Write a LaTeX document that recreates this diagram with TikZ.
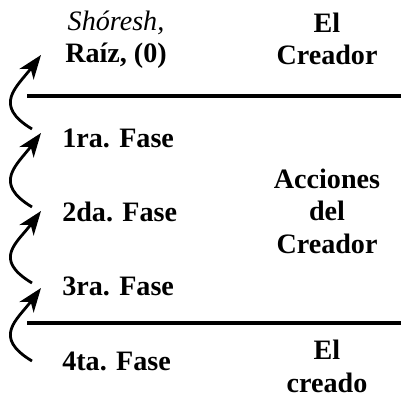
\documentclass[tikz,border=0pt]{standalone}
\usepackage{fontspec}
\setmainfont{Liberation Serif}
\usetikzlibrary{arrows.meta}
\tikzset{
	txt/.style={font=\fontsize{20}{22.8}\selectfont\bfseries, inner sep=0pt, align=center},
	flecha/.style={line width=2pt, -{Stealth[length=6mm,width=4.4mm,inset=1.7mm]}},
	raya/.style={line width=2.8pt}
}
\begin{document}
\begin{tikzpicture}
	\useasboundingbox (0,0) rectangle (10.025,9.9);
	\draw[raya](0.675,7.5)--(10.025,7.5);
	\draw[raya](0.675,1.825)--(10.025,1.825);
	\node[txt, anchor=base] (raiz) at (2.9,8.325) {{\mdseries\itshape Shóresh,}\\Raíz, (0)};
	\node[txt, anchor=base] (creador) at (8.175,8.275) {El\\Creador};
	\node[txt, anchor=base] (acciones) at (8.175,3.575) {Acciones\\del\\Creador};
	\node[txt, anchor=base] (creado) at (8.175,0.1) {El\\creado};
	\node[txt, anchor=base west] (fase1) at (1.55,6.2) {1ra. Fase};
	\node[txt, anchor=base west] (fase2) at (1.55,4.35) {2da. Fase};
	\node[txt, anchor=base west] (fase3) at (1.55,2.525) {3ra. Fase};
	\node[txt, anchor=base west] (fase4) at (1.55,0.65) {4ta. Fase};
	% ends of the arrows
	\coordinate (t1) at (0.8,6.675); \coordinate (h1) at (1.025,8.525);
	\coordinate (t2) at (0.8,4.725); \coordinate (h2) at (1.025,6.575);
	\coordinate (t3) at (0.8,2.825); \coordinate (h3) at (1.025,4.625);
	\coordinate (t4) at (0.8,0.875); \coordinate (h4) at (1.025,2.7);
	\draw[flecha](t1) .. controls +(-1.0,0.6) and +(-0.6,-0.8) .. (h1);
	\draw[flecha](t2) .. controls +(-1.0,0.6) and +(-0.6,-0.8) .. (h2);
	\draw[flecha](t3) .. controls +(-1.0,0.6) and +(-0.6,-0.8) .. (h3);
	\draw[flecha](t4) .. controls +(-1.0,0.6) and +(-0.6,-0.8) .. (h4);
\end{tikzpicture}
\end{document}
